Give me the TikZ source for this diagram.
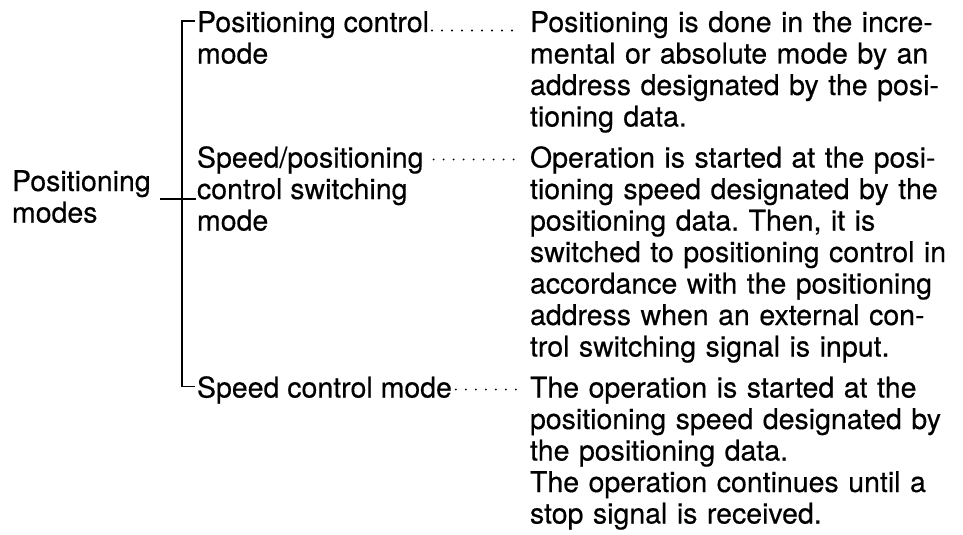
\documentclass[tikz,border=0pt]{standalone}
\usepackage{fontspec}
\setmainfont{TeX Gyre Heros}[UprightFeatures={FakeBold=0.4}]
\usepackage{tikz}
\usetikzlibrary{positioning}

\newcommand{\jline}[1]{\makebox[415pt][s]{#1}}

\begin{document}
\frenchspacing
\begin{tikzpicture}[x=1pt, y=1pt,
     every node/.style={inner sep=0pt, outer sep=0pt, anchor=base west, font=\fontsize{28.5}{31.5}\selectfont},
     desc/.style={text width=415pt, align=left},
     leader/.style={line width=2.1pt, line cap=round, dash pattern=on 0pt off 10pt},
     spine/.style={line width=1.5pt}]
     \useasboundingbox (0,0) rectangle (963,-535);

     \node[text width=141pt, align=left] (root) at (12,-191) {Positioning\\modes};

     \node (m1) at (197,-32) {Positioning control};
     \node (m1b) at ([yshift=-31.5pt]m1.base west) {mode};
     \node (m2) at (197,-167.5) {Speed/positioning};
     \node (m2b) at ([yshift=-31.5pt]m2.base west) {control switching};
     \node (m2c) at ([yshift=-31.5pt]m2b.base west) {mode};
     \node (m3) at (197,-397.5) {Speed control mode};

     \node[desc] (d1) at (530,-32) {\jline{Positioning is done in the incre-}\\
          \jline{mental or absolute mode by an}\\
          \jline{address designated by the posi-}\\
          tioning data.};
     \node[desc] (d2) at (530,-167.5) {\jline{Operation is started at the posi-}\\
          \jline{tioning speed designated by the}\\
          \jline{positioning data. Then, it is}\\
          \jline{switched to positioning control in}\\
          \jline{accordance with the positioning}\\
          \jline{address when an external con-}\\
          trol switching signal is input.};
     \node[desc] (d3) at (530,-397.5) {\jline{The operation is started at the}\\
          \jline{positioning speed designated by}\\
          the positioning data.\\
          \jline{The operation continues until a}\\
          stop signal is received.};

     \coordinate (spine) at ([xshift=-15pt]m2b.base west);

     \draw[spine] ([xshift=-2pt,yshift=11pt]m1.base west) -| (spine) |- ([xshift=-2pt,yshift=11pt]m3.base west);
     \draw[spine] ([xshift=7pt]root.east |- spine) -- ([xshift=-1pt]m2b.base west);

     \draw[leader, shorten <=3pt, shorten >=12pt] ([yshift=1.5pt]m1.base east) -- ([yshift=1.5pt]d1.base west);
     \draw[leader, shorten <=10pt, shorten >=12pt] ([yshift=8pt]m2.base east) -- ([yshift=8pt]d2.base west);
     \draw[leader, shorten <=4pt, shorten >=12pt] ([yshift=8pt]m3.base east) -- ([yshift=8pt]d3.base west);
\end{tikzpicture}
\end{document}
